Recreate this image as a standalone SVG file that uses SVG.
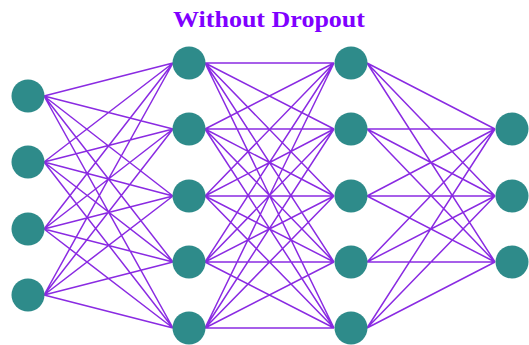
<svg xmlns="http://www.w3.org/2000/svg" width="529" height="345" viewBox="0 0 529 345">
<style>
.e{stroke:#8a2be2;stroke-width:1.5;fill:none}
.n{fill:#2e8b8a}
.t{font-family:"Liberation Serif","DejaVu Serif",serif;font-weight:bold;font-size:23px;fill:#7f00ff}
</style>
<rect width="529" height="345" fill="#ffffff"/>
<text class="t" x="269" y="27" text-anchor="middle" textLength="192" lengthAdjust="spacingAndGlyphs">Without Dropout</text>
<g id="connectors">
<path class="e" d="M44 96L173 63M44 96L173 129M44 96L173 196M44 96L173 262M44 96L173 328
M44 162L173 63M44 162L173 129M44 162L173 196M44 162L173 262M44 162L173 328
M44 229L173 63M44 229L173 129M44 229L173 196M44 229L173 262M44 229L173 328
M44 295L173 63M44 295L173 129M44 295L173 196M44 295L173 262M44 295L173 328"/>
<path class="e" d="M205 63L334 63M205 63L334 129M205 63L334 196M205 63L334 262M205 63L334 328
M205 129L334 63M205 129L334 129M205 129L334 196M205 129L334 262M205 129L334 328
M205 196L334 63M205 196L334 129M205 196L334 196M205 196L334 262M205 196L334 328
M205 262L334 63M205 262L334 129M205 262L334 196M205 262L334 262M205 262L334 328
M205 328L334 63M205 328L334 129M205 328L334 196M205 328L334 262M205 328L334 328"/>
<path class="e" d="M367 63L495 129M367 63L495 196M367 63L495 262
M367 129L495 129M367 129L495 196M367 129L495 262
M367 196L495 129M367 196L495 196M367 196L495 262
M367 262L495 129M367 262L495 196M367 262L495 262
M367 328L495 129M367 328L495 196M367 328L495 262"/>
</g>
<g id="in1"><circle class="n" cx="28" cy="96" r="16.5"/></g>
<g id="in2"><circle class="n" cx="28" cy="162" r="16.5"/></g>
<g id="in3"><circle class="n" cx="28" cy="229" r="16.5"/></g>
<g id="in4"><circle class="n" cx="28" cy="295" r="16.5"/></g>
<g id="h1a"><circle class="n" cx="189" cy="63" r="16.5"/></g>
<g id="h1b"><circle class="n" cx="189" cy="129" r="16.5"/></g>
<g id="h1c"><circle class="n" cx="189" cy="196" r="16.5"/></g>
<g id="h1d"><circle class="n" cx="189" cy="262" r="16.5"/></g>
<g id="h1e"><circle class="n" cx="189" cy="328" r="16.5"/></g>
<g id="h2a"><circle class="n" cx="351" cy="63" r="16.5"/></g>
<g id="h2b"><circle class="n" cx="351" cy="129" r="16.5"/></g>
<g id="h2c"><circle class="n" cx="351" cy="196" r="16.5"/></g>
<g id="h2d"><circle class="n" cx="351" cy="262" r="16.5"/></g>
<g id="h2e"><circle class="n" cx="351" cy="328" r="16.5"/></g>
<g id="out1"><circle class="n" cx="512" cy="129" r="16.5"/></g>
<g id="out2"><circle class="n" cx="512" cy="196" r="16.5"/></g>
<g id="out3"><circle class="n" cx="512" cy="262" r="16.5"/></g>
</svg>
